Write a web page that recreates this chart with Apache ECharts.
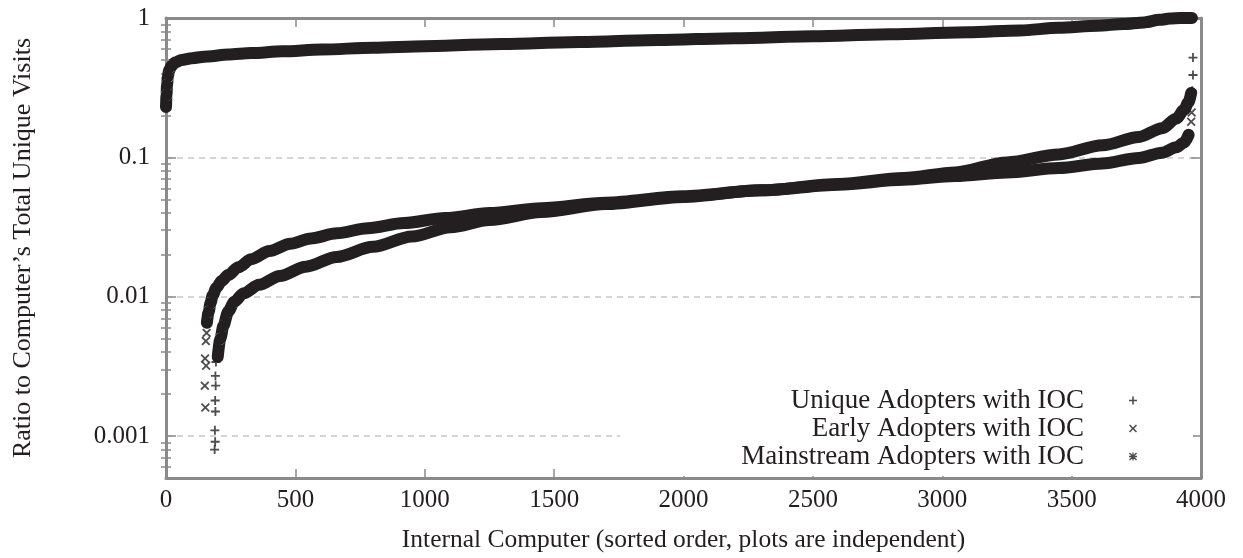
<!DOCTYPE html>
<html>
<head>
<meta charset="utf-8">
<script src="https://cdn.jsdelivr.net/npm/echarts@6/dist/echarts.min.js"></script>
<style>
  html, body { margin: 0; padding: 0; background: #fff; }
  #chart { width: 1243px; height: 558px; }
</style>
</head>
<body>
<div id="chart"></div>
<script>
// Sorted per-computer ratios; each series is sorted independently.
// Dense part of each curve: [computer index, ratio]
const uniqueBand = [[200,0.0037],[210,0.005],[222,0.0062],[240,0.0078],[264,0.0092],[300,0.0106],[360,0.0122],[440,0.0141],[540,0.0164],[660,0.0193],[800,0.0228],[950,0.027],[1100,0.0315],[1250,0.0355],[1450,0.0405],[1700,0.0462],[2000,0.052],[2300,0.058],[2600,0.0645],[2850,0.071],[3050,0.078],[3250,0.092],[3450,0.105],[3620,0.122],[3760,0.14],[3850,0.162],[3905,0.19],[3935,0.22],[3952,0.25],[3962,0.29]];
const earlyBand = [[158,0.0065],[165,0.0078],[172,0.009],[180,0.0102],[195,0.0116],[215,0.013],[240,0.0143],[280,0.0163],[330,0.0186],[400,0.0213],[480,0.024],[560,0.0262],[660,0.0285],[780,0.031],[920,0.0338],[1080,0.0367],[1250,0.0398],[1450,0.0432],[1700,0.0473],[2000,0.0525],[2300,0.058],[2600,0.0637],[2850,0.069],[3050,0.0735],[3250,0.078],[3450,0.0838],[3620,0.0905],[3760,0.099],[3850,0.108],[3905,0.118],[3935,0.128],[3952,0.145]];
const mainstreamBand = [[0,0.23],[2,0.28],[4,0.33],[7,0.38],[12,0.42],[20,0.45],[35,0.48],[60,0.5],[100,0.515],[160,0.53],[240,0.547],[330,0.56],[450,0.577],[600,0.594],[800,0.612],[1000,0.628],[1300,0.65],[1600,0.672],[1900,0.694],[2200,0.717],[2500,0.74],[2800,0.764],[3100,0.79],[3300,0.815],[3450,0.85],[3600,0.88],[3700,0.905],[3780,0.93],[3840,0.97],[3880,0.99],[3920,1.0],[3965,1.0]];

// Isolated points at the ends of the curves
const uniqueSparse = [[188,0.0008],[190,0.00091],[189,0.0011],[191,0.0015],[190,0.0018],[192,0.0023],[191,0.0027],[193,0.0034],[3966,0.3],[3969,0.39],[3969,0.52]];
const earlySparse = [[152,0.0016],[150,0.0023],[155,0.0032],[151,0.0036],[154,0.0048],[157,0.0055],[3962,0.18],[3964,0.21]];
const mainstreamSparse = [[0,0.23],[1,0.26],[0,0.3],[2,0.34]];

const seriesNames = ['Unique Adopters with IOC', 'Early Adopters with IOC', 'Mainstream Adopters with IOC'];
const yTickValues = [0.001, 0.01, 0.1, 1];
const yTickLabels = ['0.001', '0.01', '0.1', '1'];
const yMin = 0.0005, yMax = 1;

const FONT = "'Liberation Serif','Times New Roman',serif";
const INK = '#231f20';
const FRAME = '#8a8a8a';

// gnuplot-style point shapes: +, x, *
const PLUS = 'path://M4,0h2v4h4v2h-4v4h-2v-4h-4v-2h4z';
const CROSS = 'path://M0,1.4L1.4,0L5,3.6L8.6,0L10,1.4L6.4,5L10,8.6L8.6,10L5,6.4L1.4,10L0,8.6L3.6,5Z';
const STAR = 'path://M4.2,0h1.6v4.2h4.2v1.6h-4.2v4.2h-1.6v-4.2h-4.2v-1.6h4.2zM0,1.2L1.2,0L5,3.8L8.8,0L10,1.2L6.2,5L10,8.8L8.8,10L5,6.2L1.2,10L0,8.8L3.8,5Z';
const shapes = [PLUS, CROSS, STAR];

// minor ticks at 2..9 x 10^k inside the axis range
const minorTicks = [];
for (let d = 0.0001; d < 1; d *= 10) {
  for (let m = 2; m <= 9; m++) {
    const v = +(m * d).toPrecision(3);
    if (v > yMin && v < yMax) minorTicks.push(v);
  }
}

function yLabel(v) {
  const i = yTickValues.findIndex(t => Math.abs(Math.log10(v) - Math.log10(t)) < 1e-6);
  return i >= 0 ? yTickLabels[i] : '';
}

function logAxis(extra) {
  return Object.assign({
    type: 'log', logBase: 10, min: yMin, max: yMax,
    axisLine: { show: false },
    axisLabel: { show: false },
    axisTick: { show: false },
    splitLine: { show: false },
    minorTick: { show: false }
  }, extra);
}

const chart = echarts.init(document.getElementById('chart'), null, { renderer: 'canvas' });

const bands = [uniqueBand, earlyBand, mainstreamBand];
const sparse = [uniqueSparse, earlySparse, mainstreamSparse];

const series = [];
seriesNames.forEach((name, i) => {
  series.push({
    name, type: 'scatter', data: sparse[i],
    symbol: shapes[i], symbolSize: 9,
    itemStyle: { color: INK },
    clip: false, z: 3, silent: true
  });
});
seriesNames.forEach((name, i) => {
  series.push({
    name, type: 'line', data: bands[i],
    showSymbol: false, symbol: 'none',
    smooth: 0.3, smoothMonotone: 'x',
    lineStyle: { color: INK, width: 12, cap: 'round', join: 'round' },
    itemStyle: { color: INK },
    clip: false, z: 2, silent: true
  });
});

const option = {
  animation: false,
  backgroundColor: '#ffffff',
  grid: { left: 166, right: 42, top: 18, bottom: 79 },
  legend: {
    orient: 'vertical', align: 'right',
    right: 50, top: 383,
    itemWidth: 8, itemHeight: 8, itemGap: 1,
    padding: [4, 56, 6, 121],
    backgroundColor: '#ffffff',
    selectedMode: false,
    textStyle: { fontFamily: FONT, fontSize: 27, color: INK, lineHeight: 27, padding: [0, 40, 0, 0] },
    data: seriesNames.map((n, i) => ({ name: n, icon: shapes[i], itemStyle: { color: INK } }))
  },
  xAxis: [
    {
      type: 'value', position: 'bottom', min: 0, max: 4000, interval: 500,
      axisLine: { show: true, onZero: false, lineStyle: { color: FRAME, width: 3 } },
      axisTick: { show: true, inside: true, length: 9, lineStyle: { color: FRAME, width: 1.5 } },
      axisLabel: { margin: 10, fontSize: 25, fontFamily: FONT, color: INK, formatter: v => String(v) },
      splitLine: { show: false },
      name: 'Internal Computer (sorted order, plots are independent)',
      nameLocation: 'middle', nameGap: 49,
      nameTextStyle: { fontSize: 25.5, fontFamily: FONT, color: INK }
    },
    {
      type: 'value', position: 'top', min: 0, max: 4000, interval: 500,
      axisLine: { show: true, onZero: false, lineStyle: { color: FRAME, width: 3 } },
      axisTick: { show: true, inside: true, length: 9, lineStyle: { color: FRAME, width: 1.5 } },
      axisLabel: { show: false },
      splitLine: { show: false }
    }
  ],
  yAxis: [
    logAxis({
      position: 'left',
      axisLine: { show: true, onZero: false, lineStyle: { color: FRAME, width: 3 } },
      axisTick: { show: true, inside: true, length: 10, lineStyle: { color: FRAME, width: 1.5 } },
      axisLabel: { show: true, margin: 16, fontSize: 25, fontFamily: FONT, color: INK, formatter: yLabel },
      splitLine: { show: true, lineStyle: { color: '#c8c8c8', width: 1.5, type: [6, 5] } },
      name: 'Ratio to Computer\u2019s Total Unique Visits',
      nameLocation: 'middle', nameGap: 130, nameRotate: 90,
      nameTextStyle: { fontSize: 26, fontFamily: FONT, color: INK }
    }),
    logAxis({
      position: 'left',
      axisTick: { show: true, inside: true, length: 5, customValues: minorTicks, lineStyle: { color: FRAME, width: 1.5 } }
    }),
    logAxis({
      position: 'right',
      axisLine: { show: true, onZero: false, lineStyle: { color: FRAME, width: 3 } },
      axisTick: { show: true, inside: true, length: 10, lineStyle: { color: FRAME, width: 1.5 } }
    }),
    logAxis({
      position: 'right',
      axisTick: { show: true, inside: true, length: 5, customValues: minorTicks, lineStyle: { color: FRAME, width: 1.5 } }
    })
  ],
  series
};

chart.setOption(option);
</script>
</body>
</html>
